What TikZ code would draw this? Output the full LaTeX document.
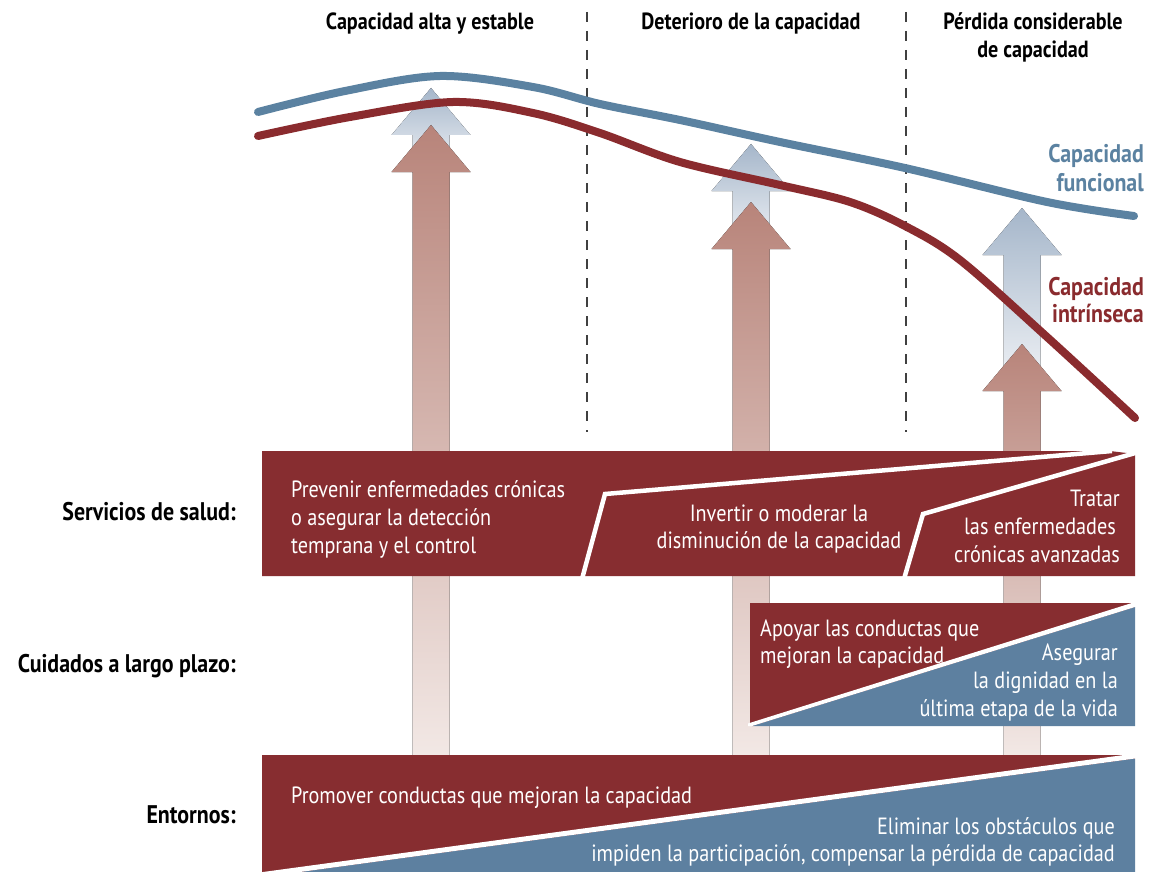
\documentclass[tikz,border=0pt]{standalone}
\usepackage{fontspec}
\setmainfont{PT Sans}[FakeStretch=0.86]
\definecolor{boxred}{HTML}{872D30}
\definecolor{boxblue}{HTML}{5D80A0}
\definecolor{curvered}{HTML}{8A2B2E}
\definecolor{curveblue}{HTML}{5B82A1}
\definecolor{arrtop}{HTML}{B8847A}
\definecolor{arrbot}{HTML}{F2E8E5}
\definecolor{btop}{HTML}{A5B6CA}
\definecolor{bbot}{HTML}{F2F4F7}
\definecolor{dashgray}{HTML}{404040}
\newcommand\myarrow[3]{(#1,#2) -- (#1+39.5,#2+47) -- (#1+18.5,#2+47) -- (#1+18.5,#3) -- (#1-18.5,#3) -- (#1-18.5,#2+47) -- (#1-39.5,#2+47) -- cycle}
\tikzset{
  bodytxt/.style={text=white, font=\fontsize{23.5}{28}\selectfont, inner sep=0pt},
  titletxt/.style={text=black, font=\fontsize{23.4}{28}\selectfont\bfseries, inner sep=0pt},
  sidetxt/.style={text=black, font=\fontsize{25.5}{28}\selectfont\bfseries, inner sep=0pt, anchor=base east},
  curvetxt/.style={font=\fontsize{25.5}{28}\selectfont\bfseries, inner sep=0pt, anchor=base east},
  dashline/.style={draw=dashgray, line width=1.6pt, dash pattern=on 10pt off 9pt},
  curveline/.style={line width=8pt, line cap=round, line join=round},
  redarrow/.style={top color=arrtop, bottom color=arrbot},
  bluearrow/.style={top color=btop, bottom color=bbot},
  sep/.style={draw=white, line width=4.5pt, line join=miter},
}
\begin{document}
\begin{tikzpicture}[x=1pt,y=-1pt]
\useasboundingbox (0,0) rectangle (1154,872);
\fill[white] (0,0) rectangle (1154,872);

% dashed phase separators
\draw[dashline] (587,12) -- (587,432);
\draw[dashline] (906,12) -- (906,432);

% titles
\node[titletxt, anchor=base] (t1) at (430,30) {Capacidad alta y estable};
\node[titletxt, anchor=base] (t2) at (751,30) {Deterioro de la capacidad};
\node[titletxt, anchor=base] (t3a) at (1033,30) {Pérdida considerable};
\node[titletxt, anchor=base] (t3b) at (1033,58) {de capacidad};

% arrows (blue behind red)
\fill[bluearrow] \myarrow{431}{88}{172};
\fill[redarrow] \myarrow{431}{125}{755};
\fill[bluearrow] \myarrow{751}{144}{249};
\fill[redarrow] \myarrow{751}{202}{755};
\fill[bluearrow] \myarrow{1022}{208}{391};
\fill[redarrow] \myarrow{1022}{344}{755};

% curves
\draw[curveline, curveblue] plot[smooth, tension=0.55] coordinates {(258,112) (345,91) (440,76) (533,87) (600,104) (680,120) (780,142) (905,168) (1047,202) (1134,216)};
\draw[curveline, curvered] plot[smooth, tension=0.55] coordinates {(258,136) (350,117) (453,102) (533,113) (600,133) (680,162) (780,185) (850,202) (905,226) (960,260) (1047,337) (1135,418)};

% curve labels
\node[curvetxt, text=curveblue] (cf1) at (1144,163) {Capacidad};
\node[curvetxt, text=curveblue] (cf2) at (1144,191) {funcional};
\node[curvetxt, text=curvered] (ci1) at (1144,295) {Capacidad};
\node[curvetxt, text=curvered] (ci2) at (1144,322) {intrínseca};

% Servicios de salud box
\fill[boxred] (262,451) -- (1110,451) -- (1135,454) -- (1135,576) -- (262,576) -- cycle;
\draw[sep] (582,579) -- (605,494) -- (1112,451);
\draw[sep] (904,579) -- (923,514) -- (1137,452.5);

% Cuidados a largo plazo box
\fill[boxred] (750,603) rectangle (1135,726);
\fill[boxblue] (1135,607) -- (1135,726) -- (752,726) -- cycle;
\fill[white] (1135,602) -- (1135,607) -- (752,726) -- (748,726) -- (748,723.5) -- cycle;

% Entornos box
\fill[boxred] (262,755) rectangle (1135,872);
\fill[boxblue] (1135,758.5) -- (1135,872) -- (300,872) -- cycle;
\fill[white] (1135,753.5) -- (1135,758.5) -- (300,872) -- (263,872) -- cycle;

% side labels
\node[sidetxt] (ls1) at (236,520) {Servicios de salud:};
\node[sidetxt] (ls2) at (236,672) {Cuidados a largo plazo:};
\node[sidetxt] (ls3) at (236,823) {Entornos:};

% box texts
\node[bodytxt, anchor=base west] (prev1) at (291,497) {Prevenir enfermedades crónicas};
\node[bodytxt, anchor=base west] (prev2) at (291,525) {o asegurar la detección};
\node[bodytxt, anchor=base west] (prev3) at (291,553) {temprana y el control};
\node[bodytxt, anchor=base] (inv1) at (779,521) {Invertir o moderar la};
\node[bodytxt, anchor=base] (inv2) at (779,548) {disminución de la capacidad};
\node[bodytxt, anchor=base east] (tra1) at (1120,506) {Tratar};
\node[bodytxt, anchor=base east] (tra2) at (1116,534) {las enfermedades};
\node[bodytxt, anchor=base east] (tra3) at (1120,562) {crónicas avanzadas};
\node[bodytxt, anchor=base west] (apo1) at (760,636) {Apoyar las conductas que};
\node[bodytxt, anchor=base west] (apo2) at (760,663) {mejoran la capacidad};
\node[bodytxt, anchor=base east] (ase1) at (1118,660) {Asegurar};
\node[bodytxt, anchor=base east] (ase2) at (1118,688) {la dignidad en la};
\node[bodytxt, anchor=base east] (ase3) at (1118,716) {última etapa de la vida};
\node[bodytxt, anchor=base west] (pro1) at (291,803) {Promover conductas que mejoran la capacidad};
\node[bodytxt, anchor=base east] (eli1) at (1115,834) {Eliminar los obstáculos que};
\node[bodytxt, anchor=base east] (eli2) at (1115,861) {impiden la participación, compensar la pérdida de capacidad};
\end{tikzpicture}
\end{document}
